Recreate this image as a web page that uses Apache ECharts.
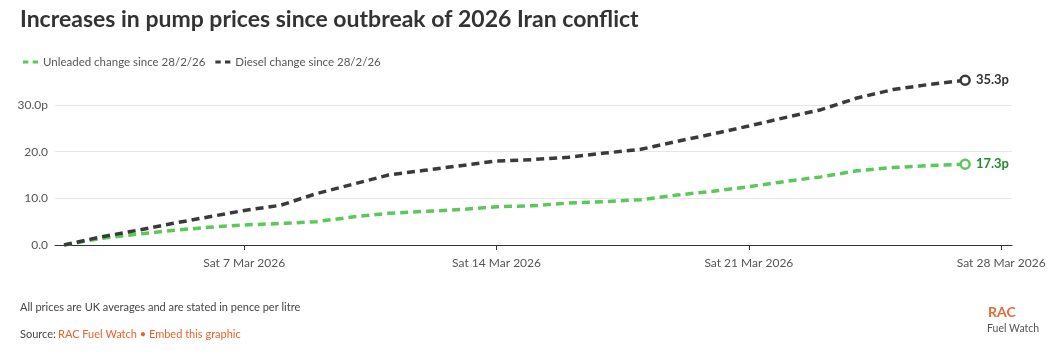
<!DOCTYPE html>
<html>
<head>
<meta charset="utf-8">
<script src="https://cdn.jsdelivr.net/npm/echarts@6/dist/echarts.min.js"></script>
<style>
html,body{margin:0;padding:0;background:#fff;}
#c{width:1051px;height:359px;}
</style>
</head>
<body>
<div id="c"></div>
<script>
// Days of March 2026, daily from Mon 2 Mar to Fri 27 Mar
var marchDays = [2,3,4,5,6,7,8,9,10,11,12,13,14,15,16,17,18,19,20,21,22,23,24,25,26,27];
var unleaded = [0, 1.4, 2.3, 3.1, 3.8, 4.3, 4.6, 5.0, 6.0, 6.8, 7.2, 7.6, 8.2, 8.4, 9.0, 9.3, 9.7, 10.7, 11.5, 12.5, 13.6, 14.6, 15.9, 16.6, 17.0, 17.3];
var diesel = [0, 1.7, 3.1, 4.6, 6.0, 7.4, 8.5, 11.0, 13.0, 15.0, 16.0, 17.0, 18.0, 18.3, 18.8, 19.7, 20.5, 22.2, 23.8, 25.5, 27.3, 29.0, 31.5, 33.3, 34.4, 35.3];
var tickDays = [7, 14, 21, 28];
var yTicks = [0, 10, 20, 30];
var seriesNames = ['Unleaded change since 28/2/26', 'Diesel change since 28/2/26'];

var FONT = 'Lato, "Open Sans", sans-serif';
var GREEN = '#5cc75a';
var DARK = '#3a3a3a';
var wk = ['Sun','Mon','Tue','Wed','Thu','Fri','Sat'];
var mo = ['Jan','Feb','Mar','Apr','May','Jun','Jul','Aug','Sep','Oct','Nov','Dec'];

function build(values, color, labelColor) {
  return values.map(function (v, i) {
    var item = { value: [marchDays[i], v] };
    if (i === values.length - 1) {
      item.symbol = 'circle';
      item.symbolSize = 9;
      item.itemStyle = { color: '#fff', borderColor: color, borderWidth: 2.5 };
      item.label = {
        show: true, position: 'right', distance: 5,
        formatter: function (p) { return p.value[1].toFixed(1) + 'p'; },
        color: labelColor, fontFamily: FONT, fontWeight: 'bold', fontSize: 13
      };
    } else {
      item.symbol = 'none';
    }
    return item;
  });
}

var chart = echarts.init(document.getElementById('c'), null, { renderer: 'canvas' });
chart.setOption({
  animation: false,
  backgroundColor: '#fff',
  textStyle: { fontFamily: FONT },
  title: {
    text: 'Increases in pump prices since outbreak of 2026 Iran conflict',
    left: 15, top: 3,
    textStyle: { fontFamily: FONT, fontWeight: 'bold', fontSize: 23, color: '#333' }
  },
  legend: {
    left: 18, top: 51,
    itemWidth: 15, itemHeight: 4, itemGap: 10,
    icon: 'path://M0,0h5v3h-5z M9,0h5v3h-5z',
    textStyle: { fontFamily: FONT, fontSize: 11.5, color: '#555' },
    data: seriesNames
  },
  grid: { left: 55, right: 39, top: 77, bottom: 114, containLabel: false },
  xAxis: {
    type: 'value',
    min: 1.75,
    max: 28.3,
    axisLine: { show: true, lineStyle: { color: '#333', width: 1.2 } },
    axisTick: { show: true, customValues: tickDays, length: 5, lineStyle: { color: '#333' } },
    axisLabel: {
      customValues: tickDays,
      fontFamily: FONT, fontSize: 12, color: '#555', margin: 12,
      formatter: function (v) {
        var dt = new Date(2026, 2, v);
        return wk[dt.getDay()] + ' ' + dt.getDate() + ' ' + mo[dt.getMonth()] + ' ' + dt.getFullYear();
      }
    },
    splitLine: { show: false }
  },
  yAxis: {
    type: 'value', min: 0, max: 36, interval: 10,
    axisLine: { show: false }, axisTick: { show: false },
    axisLabel: {
      fontFamily: FONT, fontSize: 12, color: '#555', margin: 7,
      showMaxLabel: false,
      formatter: function (v) { return v === yTicks[yTicks.length - 1] ? v.toFixed(1) + 'p' : (yTicks.indexOf(v) >= 0 ? v.toFixed(1) : ''); }
    },
    splitLine: { show: true, lineStyle: { color: '#e6e6e6', width: 1 }, showMaxLine: false }
  },
  series: [
    {
      name: seriesNames[0], type: 'line', data: build(unleaded, GREEN, '#1f8f2e'),
      color: GREEN,
      lineStyle: { color: GREEN, width: 3.5, type: [8, 5] },
      showSymbol: true, z: 3
    },
    {
      name: seriesNames[1], type: 'line', data: build(diesel, DARK, '#333'),
      color: DARK,
      lineStyle: { color: DARK, width: 3.5, type: [8, 5] },
      showSymbol: true, z: 4
    }
  ],
  graphic: [
    { type: 'text', left: 20, top: 302, style: { text: 'All prices are UK averages and are stated in pence per litre', fontFamily: FONT, fontSize: 11, fill: '#444' } },
    { type: 'text', left: 20, top: 329, style: { text: 'Source:', fontFamily: FONT, fontSize: 11, fill: '#444' } },
    { type: 'text', left: 58, top: 329, style: { text: 'RAC Fuel Watch \u2022 Embed this graphic', fontFamily: FONT, fontSize: 11, fill: '#e8632b' } },
    { type: 'text', left: 988, top: 305, style: { text: 'RAC', fontFamily: FONT, fontWeight: 'bold', fontSize: 14, fill: '#ea6a35' } },
    { type: 'text', left: 987, top: 323, style: { text: 'Fuel Watch', fontFamily: FONT, fontSize: 10.5, fill: '#555' } }
  ]
});
</script>
</body>
</html>
